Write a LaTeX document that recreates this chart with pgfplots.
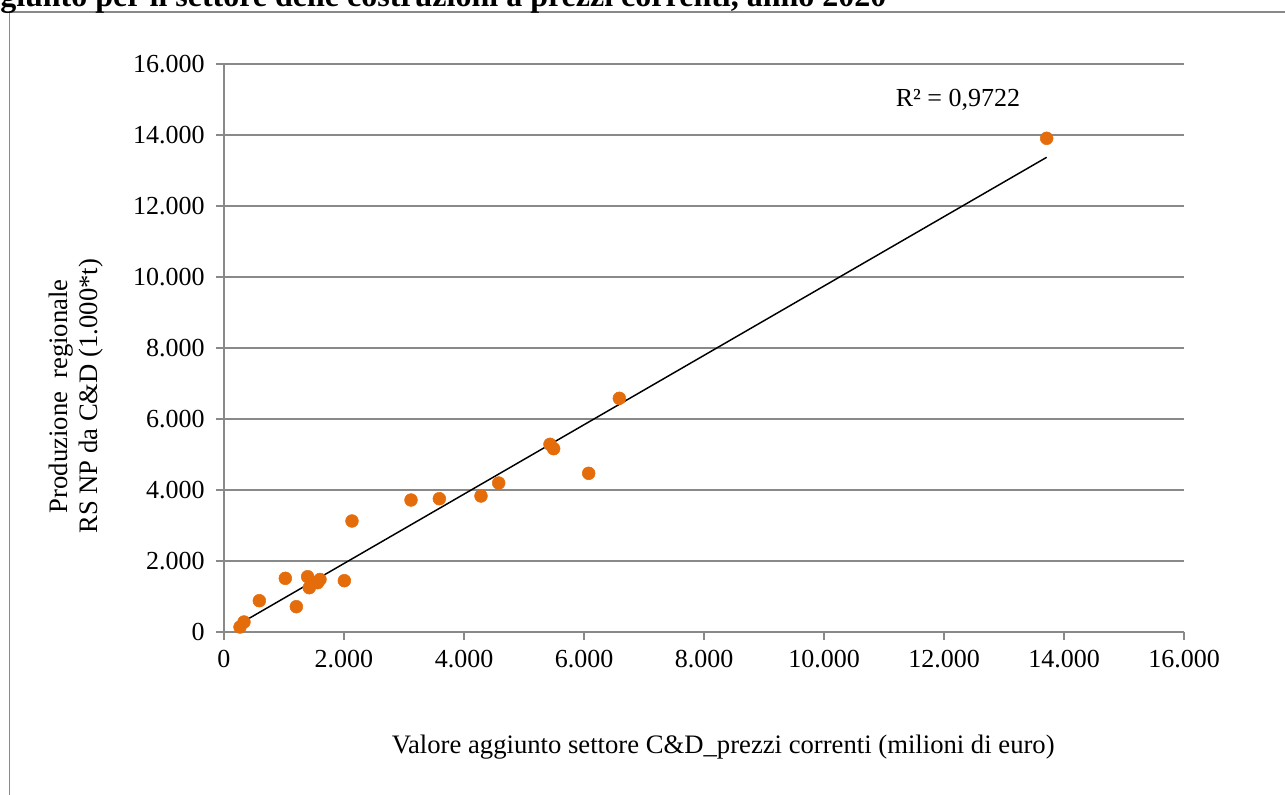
\documentclass[border=0pt]{standalone}
\usepackage{pgfplots}
\pgfplotsset{compat=1.18}
\usepackage{fontspec}
\setmainfont{Liberation Serif}
\definecolor{dots}{RGB}{228,108,10}
\definecolor{gridg}{RGB}{137,137,137}
\begin{document}
\begin{tikzpicture}
\begin{axis}[
    at={(0,0)}, anchor=origin,
    scale only axis,
    width=720pt, height=426pt,
    xmin=0, xmax=16000, ymin=0, ymax=16000,
    xtick={0,2000,...,16000},
    ytick={0,2000,...,16000},
    scaled ticks=false,
    axis lines*=left,
    axis line style={gridg, line width=1.2pt},
    tick style={gridg, line width=1.2pt},
    tick align=outside,
    major tick length=6pt,
    ymajorgrids,
    major grid style={gridg, line width=1.1pt},
    font=\fontsize{19.5}{21}\selectfont,
    /pgf/number format/.cd, fixed, 1000 sep={.}, assume math mode=true,
    /pgfplots/.cd,
    xticklabel style={yshift=-4pt},
    yticklabel style={xshift=-5pt},
    xlabel={Valore aggiunto settore C\&D\_prezzi correnti (milioni di euro)},
    xlabel style={at={(axis description cs:0.52,-0.202)}, anchor=center, font=\fontsize{20}{22}\selectfont},
    ylabel={Produzione\ \ regionale\\RS NP da C\&D (1.000*t)},
    ylabel style={at={(axis description cs:-0.154,0.415)}, anchor=center, align=center, font=\fontsize{20}{22}\selectfont},
    clip=false,
]
\addplot[only marks, mark=*, mark size=4.8pt, mark options={fill=dots, draw=dots}]
coordinates {
(267,141) (333,282) (589,882) (1022,1512) (1206,713) (1394,1558)
(1422,1248) (1560,1390) (1600,1480) (2006,1445) (2133,3127)
(3117,3718) (3589,3755) (4283,3831) (4578,4197) (5433,5287)
(5494,5164) (6078,4470) (6589,6583) (13711,13907)
};
\addplot[black, line width=1.1pt] coordinates {(255,225) (13711,13372)};
\node[anchor=center] at (axis cs:12233,14986) {R² = 0,9722};
\end{axis}
\draw[gridg, line width=1.2pt] (-160.9pt,-130pt) -- (-160.9pt,465pt) -- (800pt,465pt);
\node[anchor=base west, inner sep=0pt, font=\fontsize{24}{26}\selectfont\bfseries]
  at (-168pt,469pt) {giunto per il settore delle costruzioni a prezzi correnti, anno 2020};
\pgfresetboundingbox
\useasboundingbox (-168pt,-121.5pt) rectangle (795.75pt,474pt);
\end{tikzpicture}
\end{document}
